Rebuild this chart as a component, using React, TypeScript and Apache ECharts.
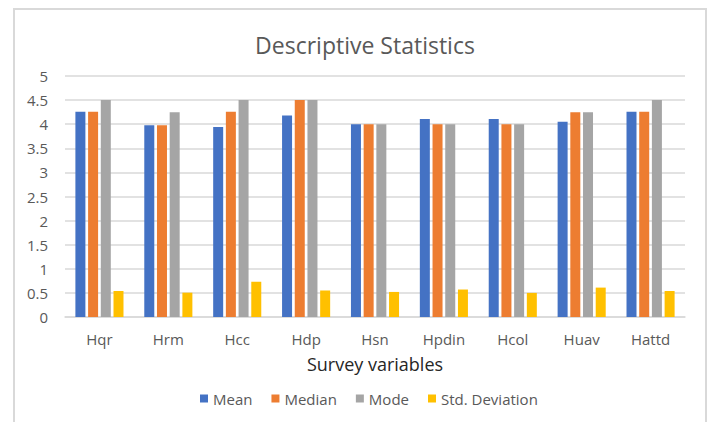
import React, { useEffect, useRef } from "react";
import * as echarts from "echarts";

const categories = ["Hqr", "Hrm", "Hcc", "Hdp", "Hsn", "Hpdin", "Hcol", "Huav", "Hattd"];
const meanValues = [4.26, 3.98, 3.94, 4.18, 4.0, 4.11, 4.11, 4.05, 4.26];
const medianValues = [4.26, 3.98, 4.26, 4.5, 4.0, 4.0, 4.0, 4.25, 4.26];
const modeValues = [4.5, 4.25, 4.5, 4.5, 4.0, 4.0, 4.0, 4.25, 4.5];
const stdValues = [0.54, 0.505, 0.73, 0.55, 0.52, 0.57, 0.5, 0.61, 0.54];

const seriesNames = ["Mean", "Median", "Mode", "Std. Deviation"];
const seriesColors = ["#4472C4", "#ED7D31", "#A5A5A5", "#FFC000"];

const FONT = "'Open Sans', sans-serif";
const TEXT_GREY = "#595959";

export default function App() {
  const ref = useRef<HTMLDivElement>(null);

  useEffect(() => {
    if (!ref.current) return;
    const chart = echarts.init(ref.current, undefined, { renderer: "svg" });
    const data = [meanValues, medianValues, modeValues, stdValues];

    chart.setOption({
      animation: false,
      backgroundColor: "#ffffff",
      textStyle: { fontFamily: FONT },
      graphic: [
        {
          type: "rect",
          shape: { x: 14, y: 9, width: 692, height: 430 },
          style: { fill: "none", stroke: "#d9d9d9", lineWidth: 2 },
          silent: true,
          z: -1,
        },
        {
          type: "text",
          x: 365,
          y: 45,
          style: {
            text: "Descriptive Statistics",
            fontFamily: FONT,
            fontSize: 23,
            fill: TEXT_GREY,
            textAlign: "center",
            textVerticalAlign: "middle",
          },
        },
      ],
      legend: {
        left: 195,
        top: 386,
        icon: "rect",
        itemWidth: 8,
        itemHeight: 8,
        itemGap: 19,
        textStyle: { fontFamily: FONT, fontSize: 15, color: TEXT_GREY },
        data: seriesNames,
      },
      grid: { left: 65, right: 24, top: 76, bottom: 105 },
      xAxis: {
        type: "category",
        data: categories,
        axisLine: { lineStyle: { color: "#d9d9d9", width: 1.5 } },
        axisTick: { show: false },
        axisLabel: { fontFamily: FONT, fontSize: 15, color: TEXT_GREY, margin: 14 },
        name: "Survey variables",
        nameLocation: "middle",
        nameGap: 38,
        nameTextStyle: { fontFamily: FONT, fontSize: 18, color: "#262626" },
      },
      yAxis: {
        type: "value",
        min: 0,
        max: 5,
        interval: 0.5,
        axisLine: { show: false },
        axisTick: { show: false },
        splitLine: { lineStyle: { color: "#d9d9d9", width: 1.5 } },
        axisLabel: { fontFamily: FONT, fontSize: 15, color: TEXT_GREY, margin: 17 },
      },
      series: seriesNames.map((name, i) => ({
        name,
        type: "bar",
        data: data[i],
        barWidth: 10,
        barGap: "27%",
        itemStyle: { color: seriesColors[i] },
      })),
    });

    return () => chart.dispose();
  }, []);

  return (
    <div
      ref={ref}
      style={{ position: "fixed", left: 0, top: 0, width: 709, height: 422 }}
    />
  );
}
